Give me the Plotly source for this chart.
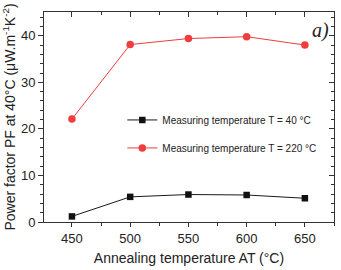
import plotly.graph_objects as go

anneal_T = [450, 500, 550, 600, 650]
pf_40 = [1.2, 5.4, 5.9, 5.8, 5.1]
pf_220 = [22.1, 38.1, 39.4, 39.8, 38.0]
x_ticks = [450, 500, 550, 600, 650]
y_ticks = [0, 10, 20, 30, 40]

xr = [426, 675]
yr = [0, 45.1]

fig = go.Figure()
fig.add_trace(go.Scatter(x=anneal_T, y=pf_40, mode="lines+markers",
                         name="Measuring temperature T = 40 °C", legendgroup="a",
                         line=dict(color="#1a1a1a", width=1),
                         marker=dict(symbol="square", size=6.5, color="#111111")))
fig.add_trace(go.Scatter(x=anneal_T, y=pf_220, mode="lines+markers",
                         name="Measuring temperature T = 220 °C", legendgroup="b",
                         line=dict(color="#f03c3c", width=1),
                         marker=dict(symbol="circle", size=7.5, color="#f03c3c")))
# invisible trace for mirror axes
fig.add_trace(go.Scatter(x=[xr[0]], y=[yr[0]], xaxis="x2", yaxis="y2", mode="markers",
                         marker=dict(opacity=0), showlegend=False, hoverinfo="skip"))

font_fam = "Liberation Sans, Arial, sans-serif"
fig.update_layout(
    width=341, height=270,
    margin=dict(l=44, r=7, t=12, b=44),
    paper_bgcolor="white", plot_bgcolor="white",
    font=dict(family=font_fam, color="#222222"),
    showlegend=True,
    legend=dict(x=0.27, y=0.555, xanchor="left", yanchor="top",
                bgcolor="rgba(0,0,0,0)", font=dict(size=10, color="#222222"),
                traceorder="grouped", tracegroupgap=9, itemwidth=30),
    xaxis=dict(range=xr, tickvals=x_ticks, ticktext=[str(v) for v in x_ticks],
               showgrid=False, zeroline=False, showline=True, linecolor="#333333", linewidth=1,
               ticks="outside", ticklen=4, tickcolor="#333333",
               tickfont=dict(size=13),
               minor=dict(dtick=25, tick0=0, ticks="outside", ticklen=3, tickcolor="#333333"),
               title=dict(text="Annealing temperature AT (°C)", font=dict(size=14), standoff=8)),
    yaxis=dict(range=yr, tickvals=y_ticks, ticktext=[str(v) for v in y_ticks],
               showgrid=False, zeroline=False, showline=True, linecolor="#333333", linewidth=1,
               ticks="outside", ticklen=5, tickcolor="#333333",
               tickfont=dict(size=13),
               minor=dict(dtick=2, tick0=0, ticks="outside", ticklen=3, tickcolor="#333333"),
               title=dict(text="Power factor PF at 40°C (μW.m<sup>-1</sup>K<sup>-2</sup>)",
                          font=dict(size=14), standoff=3)),
    xaxis2=dict(range=xr, overlaying="x", side="top", showticklabels=False,
                tickvals=x_ticks, showgrid=False, zeroline=False, showline=True,
                linecolor="#333333", linewidth=1, ticks="inside", ticklen=5, tickcolor="#333333",
                minor=dict(dtick=25, tick0=0, ticks="inside", ticklen=3, tickcolor="#333333")),
    yaxis2=dict(range=yr, overlaying="y", side="right", showticklabels=False,
                tickvals=y_ticks, showgrid=False, zeroline=False, showline=True,
                linecolor="#333333", linewidth=1, ticks="inside", ticklen=5, tickcolor="#333333",
                minor=dict(dtick=2, tick0=0, ticks="inside", ticklen=3, tickcolor="#333333")),
    annotations=[dict(text="<i>a)</i>", x=0.955, y=0.91, xref="paper", yref="paper",
                      xanchor="center", yanchor="middle", showarrow=False,
                      font=dict(family="Liberation Serif, Times New Roman, serif", size=20,
                                color="#222222"))],
)

fig.write_html("out.html")
